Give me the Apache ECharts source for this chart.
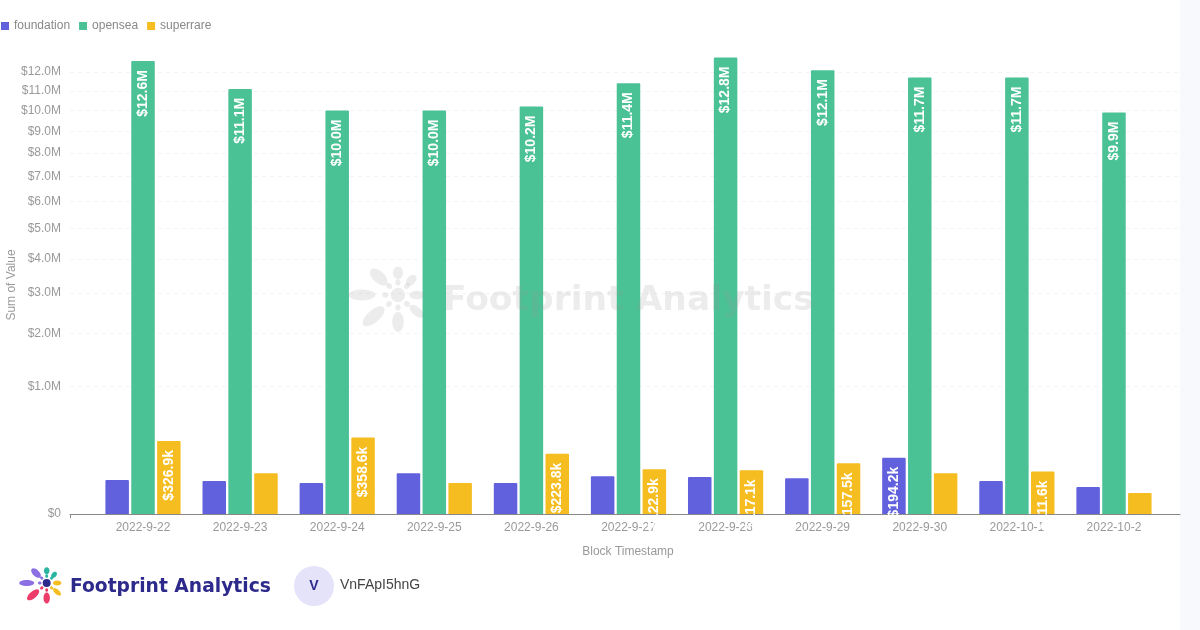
<!DOCTYPE html>
<html>
<head>
    <meta charset="UTF-8">
    <style>
        html, body { margin: 0; padding: 0; background: #fff; }
        #container { width: 1200px; height: 630px; }
    </style>
</head>
<body>
<div id="container"></div>

<script src="https://cdn.jsdelivr.net/npm/echarts@6/dist/echarts.min.js"></script>
<script type="text/javascript">
    var dates = ['2022-9-22', '2022-9-23', '2022-9-24', '2022-9-25', '2022-9-26', '2022-9-27',
        '2022-9-28', '2022-9-29', '2022-9-30', '2022-10-1', '2022-10-2'];
    var foundation = [70600, 66500, 58700, 102600, 58700, 88000, 83600, 79000, 194200, 66500, 44500];
    var opensea = [12600000, 11100000, 10000000, 10000000, 10200000, 11400000,
        12800000, 12100000, 11700000, 11700000, 9900000];
    var superrare = [326900, 102600, 358600, 58700, 223800, 122900, 117100, 157500, 102600, 111600, 26900];
    var yTicks = [0, 1000000, 2000000, 3000000, 4000000, 5000000, 6000000,
        7000000, 8000000, 9000000, 10000000, 11000000, 12000000];
    var yMax = 13340000;

    // logo petals: angle, distance, rx, ry, colour
    var petals = [
        [180, 20, 7.5, 3, '#8b6fe3'], [223, 14.6, 6, 3.2, '#8b6fe3'], [270, 12.3, 3.5, 2.8, '#2bb5a0'],
        [312, 11, 3.5, 2.4, '#2bb5a0'], [0, 10.5, 4.2, 2.4, '#f6bd21'], [41, 13.7, 4.8, 2.4, '#f6bd21'],
        [90, 15, 5.5, 3.2, '#ee3c6a'], [139, 18, 7.5, 3.4, '#ee3c6a'],
        [180, 7, 1.8, 1.5, '#8b6fe3'], [225, 7, 1.8, 1.5, '#8b6fe3'], [270, 7, 1.8, 1.5, '#2bb5a0'],
        [315, 7, 1.8, 1.5, '#2bb5a0'], [45, 7, 1.8, 1.5, '#f6bd21'], [90, 7, 1.8, 1.5, '#ee3c6a'],
        [135, 7, 1.8, 1.5, '#ee3c6a']
    ];

    // the y axis of the original is a square root scale
    function toAxis(v) {
        return Math.sqrt(v);
    }

    function money(v) {
        if (v === 0) return '$0';
        if (v >= 1000000) return '$' + (v / 1000000).toFixed(1) + 'M';
        return '$' + (v / 1000).toFixed(1) + 'k';
    }

    function barSeries(name, values, color) {
        return {
            name: name,
            type: 'bar',
            barWidth: 23.5,
            barGap: '10%',
            z: 3,
            itemStyle: { color: color, borderRadius: [1, 1, 0, 0] },
            data: values.map(function (v, i) {
                return {
                    value: [i, toAxis(v)],
                    label: {
                        show: v >= 110000,
                        position: 'insideTop',
                        distance: 9,
                        rotate: 90,
                        align: 'right',
                        verticalAlign: 'middle',
                        color: '#fff',
                        fontFamily: 'Liberation Sans',
                        fontWeight: 'bold',
                        fontSize: 14,
                        formatter: money(v)
                    }
                };
            })
        };
    }

    function logo(cx, cy, scale, gray) {
        var items = petals.map(function (p) {
            var a = p[0] * Math.PI / 180;
            return {
                type: 'ellipse',
                x: cx + Math.cos(a) * p[1] * scale,
                y: cy + Math.sin(a) * p[1] * scale,
                rotation: -a,
                shape: { cx: 0, cy: 0, rx: p[2] * scale, ry: p[3] * scale },
                style: { fill: gray ? 'rgba(150,150,150,0.18)' : p[4] },
                z: 20
            };
        });
        items.push({
            type: 'circle',
            shape: { cx: cx, cy: cy, r: 4 * scale },
            style: { fill: gray ? 'rgba(150,150,150,0.18)' : '#2d2a8c' },
            z: 20
        });
        return items;
    }

    var graphics = [
        { type: 'rect', shape: { x: 1180, y: 0, width: 20, height: 630 }, style: { fill: '#f8f9fc' }, z: -1 },
        { type: 'text', x: 443, y: 301, z: 20, style: {
            text: 'Footprint Analytics', fill: 'rgba(150,150,150,0.18)', font: 'bold 34.5px "DejaVu Sans"',
            textVerticalAlign: 'middle' } },
        { type: 'text', x: 70, y: 587, z: 20, style: {
            text: 'Footprint Analytics', fill: '#2d2a8c', font: 'bold 18.7px "DejaVu Sans"',
            textVerticalAlign: 'middle' } },
        { type: 'circle', shape: { cx: 314, cy: 586, r: 20 }, style: { fill: '#e4e3fa' } },
        { type: 'text', x: 314, y: 586, z: 20, style: {
            text: 'V', fill: '#2d2a8c', font: 'bold 14px "Liberation Sans"',
            textAlign: 'center', textVerticalAlign: 'middle' } },
        { type: 'text', x: 340, y: 585, z: 20, style: {
            text: 'VnFApI5hnG', fill: '#444', font: '14px "Liberation Sans"',
            textVerticalAlign: 'middle' } }
    ].concat(logo(46.7, 583, 1, false), logo(398, 295, 1.8, true));

    var myChart = echarts.init(document.getElementById('container'), null, { renderer: 'canvas' });

    var series = [
        barSeries('foundation', foundation, '#6161de'),
        barSeries('opensea', opensea, '#4bc196'),
        barSeries('superrare', superrare, '#f6bd21')
    ];

    // dashed gridlines at the square root tick positions
    series[0].markLine = {
        silent: true,
        z: 1,
        symbol: 'none',
        label: { show: false },
        lineStyle: { color: '#f4f4f4', type: [4, 4], width: 1 },
        data: yTicks.slice(1).map(function (t) { return { yAxis: toAxis(t) }; })
    };

    var option = {
        animation: false,
        color: ['#6161de', '#4bc196', '#f6bd21'],
        textStyle: { fontFamily: 'Liberation Sans' },
        legend: {
            left: 1,
            top: 20,
            padding: 0,
            icon: 'rect',
            itemWidth: 8,
            itemHeight: 8,
            itemGap: 9,
            textStyle: { color: '#888', fontSize: 12 },
            data: ['foundation', 'opensea', 'superrare']
        },
        grid: { left: 70, right: 20, top: 48, bottom: 116, outerBoundsMode: 'none' },
        xAxis: {
            type: 'value',
            min: -0.752,
            max: 10.68,
            name: 'Block Timestamp',
            nameLocation: 'middle',
            nameGap: 32,
            nameMoveOverlap: false,
            nameTextStyle: { color: '#999', fontSize: 12, padding: [0, 0, 0, 6] },
            axisLine: { show: true, lineStyle: { color: '#888' } },
            axisTick: { show: true, length: 4, customValues: [-0.752], lineStyle: { color: '#888' } },
            splitLine: { show: false },
            axisLabel: {
                color: '#999',
                fontSize: 12,
                margin: 8,
                customValues: dates.map(function (d, i) { return i; }),
                formatter: function (v) { return dates[v]; }
            }
        },
        yAxis: {
            type: 'value',
            min: 0,
            max: toAxis(yMax),
            name: 'Sum of Value',
            nameLocation: 'middle',
            nameGap: 52,
            nameMoveOverlap: false,
            nameTextStyle: { color: '#999', fontSize: 12, padding: [0, 8, 0, 0] },
            axisLine: { show: false },
            axisTick: { show: false },
            splitLine: { show: false },
            axisLabel: {
                color: '#999',
                fontSize: 12,
                margin: 9,
                padding: [2, 0, 0, 0],
                customValues: yTicks.map(toAxis),
                formatter: function (v) { return money(Math.round(v * v)); }
            }
        },
        graphic: graphics,
        series: series
    };

    myChart.setOption(option);
    window.addEventListener('resize', myChart.resize);
</script>
</body>
</html>
